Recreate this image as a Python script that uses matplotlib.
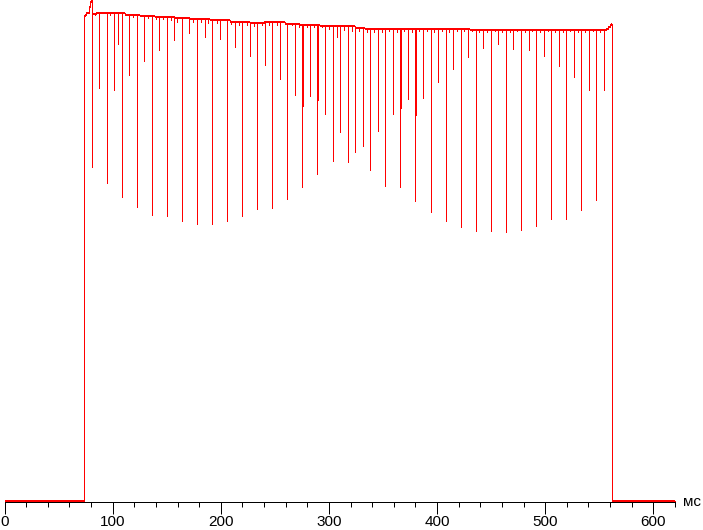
import numpy as np
import matplotlib
matplotlib.use("Agg")
import matplotlib.pyplot as plt

# ---- data (time in ms, brightness in % of plateau) ----
level_t = [0, 73.7, 74.4, 75.3, 77.1, 78.1, 79.0, 79.9, 80.8, 84.5, 88.2, 111.4, 125.2,
           139.1, 157.6, 171.5, 190.0, 208.5, 227.0, 236.2, 239.9, 259.3, 273.2, 291.7,
           305.6, 324.1, 333.3, 430.5, 556.2, 558.1, 559.5, 560.9, 561.5, 620]
level_v = [0, 99.6, 99.8, 100.1, 100.2, 101.4, 102.5, 102.8, 100.0, 100.3, 100.1, 99.8, 99.6,
           99.4, 99.2, 99.0, 98.7, 98.4, 98.2, 98.1, 98.3, 98.0, 97.8, 97.6,
           97.5, 97.1, 96.9, 96.8, 97.0, 97.3, 97.7, 98.0, 0, 0]

spike_t = [80.4, 81.1, 87.6, 94.7, 95.0, 101.5, 105.2, 108.9, 115.3, 122.7,
           129.2, 136.6, 143.1, 150.5, 157.0, 164.4, 170.8, 178.2, 184.9, 192.1,
           199.5, 206.0, 213.4, 219.8, 227.2, 233.7, 241.1, 247.6, 255.0, 261.5,
           268.9, 275.3, 276.0, 282.7, 289.2, 289.9, 296.6, 303.3, 304.0, 310.5,
           317.9, 324.4, 331.8, 338.2, 345.6, 352.1, 359.5, 366.0, 366.6, 373.4,
           379.9, 380.5, 387.2, 393.9, 394.7, 401.1, 408.5, 415.0, 422.4, 428.9,
           436.3, 442.8, 450.1, 456.6, 464.0, 470.5, 477.9, 485.0, 491.8, 498.9,
           505.6, 513.0, 519.5, 526.9, 533.4, 540.8, 547.3, 554.7,
           456.0, 470.0, 484.6, 498.6, 307.2]
spike_v = [85.8, 68.6, 84.8, 82.8, 65.3, 84.4, 93.8, 62.4, 87.5, 60.4,
           90.3, 58.7, 92.6, 58.5, 94.7, 57.5, 96.1, 56.9, 95.3, 56.9,
           94.9, 57.5, 93.2, 58.5, 91.4, 60.0, 89.5, 60.2, 86.7, 62.0,
           83.4, 64.5, 81.1, 83.2, 67.1, 82.3, 79.5, 83.6, 69.8, 75.8,
           69.6, 71.7, 72.9, 68.0, 76.0, 64.7, 79.5, 64.5, 80.7, 82.5,
           61.6, 79.3, 82.8, 78.0, 59.3, 86.0, 57.5, 88.7, 56.3, 91.2,
           55.4, 93.0, 55.4, 93.8, 55.2, 92.8, 55.6, 92.6, 56.5, 91.4,
           57.9, 89.3, 57.9, 87.1, 59.8, 84.4, 61.8, 84.4,
           95.5, 94.9, 94.3, 93.9, 95.2]

dip_t = [83.6, 97.5, 119.0, 132.9, 140.0, 146.8, 153.6, 159.2, 174.5, 181.4,
         188.4, 196.7, 209.7, 217.1, 224.0, 230.9, 237.8, 244.8, 251.7, 265.5,
         272.6, 279.4, 286.4, 293.3, 300.3, 314.2, 321.6, 328.1, 335.5, 341.9,
         349.3, 355.8, 363.2, 369.7, 377.1, 383.5, 390.9, 397.4, 404.8, 411.3,
         418.7, 425.2, 432.6, 439.0, 446.5, 453.9, 460.3, 467.7, 474.2, 481.6,
         488.0, 494.9, 502.3, 509.3, 516.2, 523.2, 530.1, 537.1, 543.9, 550.8]
dip_v = [99.7, 99.7, 99.3, 99.1, 98.9, 99.0, 98.8, 98.4, 98.4, 98.4,
         98.2, 98.2, 98.0, 97.8, 97.8, 97.6, 97.8, 97.8, 97.8, 97.7,
         97.4, 97.4, 97.3, 97.3, 97.0, 96.7, 96.6, 96.6, 96.4, 96.4,
         96.4, 96.6, 96.4, 96.6, 96.4, 96.6, 96.6, 96.4, 96.6, 96.4,
         96.6, 96.6, 96.6, 96.4, 96.4, 96.6, 96.4, 96.4, 96.6, 96.4,
         96.6, 96.4, 96.6, 96.4, 96.4, 96.6, 96.4, 96.4, 96.6, 96.4]

x_major = [0, 100, 200, 300, 400, 500, 600]
x_unit = "мс"

# ---- figure ----
W, H, DPI = 703, 530, 100
fig = plt.figure(figsize=(W / DPI, H / DPI), dpi=DPI)
px = 72.0 / DPI  # one pixel in points

x0, x1 = 4.6, 675.0        # pixel columns of 0 and 620 ms
y_axis = 502.0            # pixel row of axis line
ax = fig.add_axes([x0 / W, (H - y_axis) / H, (x1 - x0) / W, y_axis / H])
ax.set_xlim(0, 620)
ax.set_ylim(-0.205, 102.87)

red = "#ff0000"
lt = np.array(level_t)
lv = np.array(level_v)

def level_at(t):
    idx = np.searchsorted(lt, np.asarray(t), side="right") - 1
    return lv[idx]

# thin outline of the whole trace (vertical edges 1 px)
ax.step(level_t, level_v, where="post", color=red, lw=1.0 * px,
        antialiased=False, clip_on=False, zorder=3)
# horizontal runs drawn a bit thicker, as in the reference
ax.hlines(lv[:-1], lt[:-1], lt[1:], color=red, lw=2.0 * px,
          antialiased=False, clip_on=False, zorder=3)
ax.vlines(spike_t, spike_v, level_at(spike_t), color=red, lw=1.0 * px,
          antialiased=False, zorder=3)
ax.vlines(dip_t, dip_v, level_at(dip_t), color=red, lw=1.0 * px,
          antialiased=False, zorder=3)

for s in ["top", "right", "left"]:
    ax.spines[s].set_visible(False)
ax.spines["bottom"].set_linewidth(1.0 * px)
ax.spines["bottom"].set_color("black")
ax.set_yticks([])
ax.set_xticks(x_major)
ax.set_xticks(np.arange(0, 621, 20), minor=True)
ax.tick_params(axis="x", which="major", direction="out", length=12 * px,
               width=1.0 * px, color="black", pad=0.5, labelsize=11,
               labelcolor="black")
ax.tick_params(axis="x", which="minor", direction="out", length=5 * px,
               width=1.0 * px, color="black")
for lab in ax.get_xticklabels():
    lab.set_fontfamily("Liberation Sans")

fig.text(683 / W, (H - y_axis) / H, x_unit, ha="left", va="center",
         fontsize=11, family="Liberation Sans", color="black")

fig.savefig("out.png", dpi=DPI)
